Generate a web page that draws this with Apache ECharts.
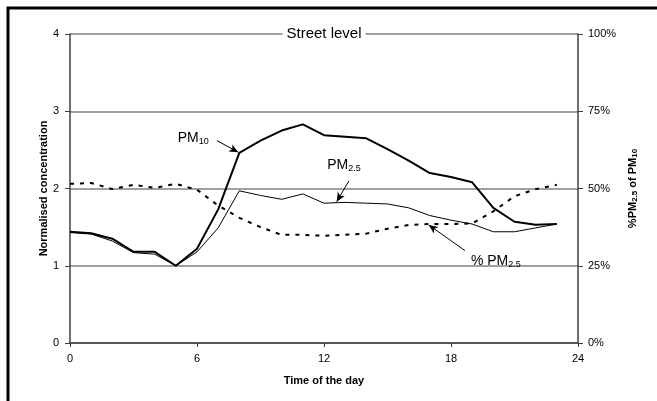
<!DOCTYPE html>
<html>
<head>
<meta charset="utf-8">
<script src="https://cdn.jsdelivr.net/npm/echarts@6/dist/echarts.min.js"></script>
<style>
html,body{margin:0;padding:0;background:#fff;}
#chart{width:657px;height:401px;}
</style>
</head>
<body>
<div id="chart"></div>
<script>
const hours = [0,1,2,3,4,5,6,7,8,9,10,11,12,13,14,15,16,17,18,19,20,21,22,23];
const pm10 = [1.44,1.42,1.35,1.18,1.18,1.00,1.22,1.73,2.46,2.62,2.75,2.83,2.69,2.67,2.65,2.51,2.36,2.20,2.15,2.08,1.75,1.57,1.53,1.54];
const pm25 = [1.43,1.41,1.32,1.17,1.15,1.00,1.18,1.49,1.97,1.91,1.86,1.93,1.81,1.82,1.81,1.80,1.75,1.65,1.59,1.54,1.44,1.44,1.49,1.54];
const pctPm25 = [51.5,51.8,49.8,51.2,50.2,51.5,49.6,44.5,40.5,37.5,35.0,35.0,34.7,35.0,35.4,37.0,38.2,38.5,38.5,38.7,42.6,47.5,49.8,51.2];
const xTicks = [0,6,12,18,24];
const leftTicks = [0,1,2,3,4];
const rightTicks = [0,25,50,75,100];

const chart = echarts.init(document.getElementById('chart'), null, {renderer:'canvas'});
const FONT = 'Arial, "Liberation Sans", sans-serif';
const pair = (arr) => hours.map((h,i)=>[h,arr[i]]);
const arrowLine = (from,to) => ({
  silent:true, animation:false, symbol:['none','arrow'], symbolSize:[6,9],
  lineStyle:{color:'#000',width:1,type:'solid'}, label:{show:false},
  emphasis:{disabled:true},
  data:[[{coord:from},{coord:to}]]
});
const subRich = {
  a:{fontFamily:FONT,fontSize:14,color:'#000',lineHeight:16,verticalAlign:'bottom'},
  b:{fontFamily:FONT,fontSize:9,color:'#000',lineHeight:9,verticalAlign:'bottom',padding:[0,0,-1,0]}
};

chart.setOption({
  animation:false,
  backgroundColor:'#fff',
  grid:{left:70,right:79,top:34,bottom:58},
  xAxis:{
    type:'value',min:xTicks[0],max:xTicks[xTicks.length-1],interval:6,
    name:'Time of the day',nameLocation:'middle',nameGap:32,nameMoveOverlap:false,
    nameTextStyle:{fontFamily:FONT,fontSize:11,fontWeight:'bold',color:'#000'},
    axisLine:{show:true,lineStyle:{color:'#404040',width:1.5}},
    axisTick:{show:true,length:4,lineStyle:{color:'#404040',width:1}},
    axisLabel:{fontFamily:FONT,fontSize:11,color:'#000',margin:10},
    splitLine:{show:false}
  },
  yAxis:[{
    type:'value',min:leftTicks[0],max:leftTicks[leftTicks.length-1],interval:1,
    name:'Normalised concentration',nameLocation:'middle',nameGap:21,nameRotate:90,nameMoveOverlap:false,
    nameTextStyle:{fontFamily:FONT,fontSize:11,fontWeight:'bold',color:'#000'},
    axisLine:{show:true,lineStyle:{color:'#404040',width:1.5}},
    axisTick:{show:true,length:5,lineStyle:{color:'#404040',width:1}},
    axisLabel:{fontFamily:FONT,fontSize:11,color:'#000',margin:11},
    splitLine:{show:true,lineStyle:{color:'#808080',width:1.5}}
  },{
    type:'value',min:rightTicks[0],max:rightTicks[rightTicks.length-1],interval:25,position:'right',
    name:'{n|%PM}{s|2.5}{n| of PM}{s|10}',nameLocation:'middle',nameGap:45,nameRotate:90,
    nameTextStyle:{rich:{
      n:{fontFamily:FONT,fontSize:11,fontWeight:'bold',color:'#000',lineHeight:13,verticalAlign:'bottom'},
      s:{fontFamily:FONT,fontSize:8,fontWeight:'bold',color:'#000',lineHeight:8,verticalAlign:'bottom',padding:[0,0,-1,0]}
    }},
    axisLine:{show:true,lineStyle:{color:'#404040',width:1.5}},
    axisTick:{show:true,length:5,lineStyle:{color:'#404040',width:1}},
    axisLabel:{fontFamily:FONT,fontSize:11,color:'#000',margin:10,formatter:'{value}%'},
    splitLine:{show:false}
  }],
  series:[{
    name:'PM10',type:'line',yAxisIndex:0,data:pair(pm10),symbol:'none',
    lineStyle:{color:'#000',width:2},z:5,
    markLine:arrowLine([6.94,2.62],[7.95,2.47])
  },{
    name:'PM2.5',type:'line',yAxisIndex:0,data:pair(pm25),symbol:'none',
    lineStyle:{color:'#000',width:1},z:4,
    markLine:arrowLine([13.18,2.10],[12.6,1.83])
  },{
    name:'% PM2.5',type:'line',yAxisIndex:1,data:pair(pctPm25),symbol:'none',
    lineStyle:{color:'#000',width:2,type:[4,6]},z:3,
    markLine:arrowLine([18.66,29.9],[16.95,38.2])
  }]
});

const p10 = chart.convertToPixel({xAxisIndex:0,yAxisIndex:0},[6.55,2.66]);
const p25 = chart.convertToPixel({xAxisIndex:0,yAxisIndex:0},[12.94,2.32]);
const pp = chart.convertToPixel({xAxisIndex:0,yAxisIndex:1},[18.94,26.9]);
const tTop = chart.convertToPixel({xAxisIndex:0,yAxisIndex:0},[12,4]);

chart.setOption({
  graphic:[{
    type:'rect',silent:true,shape:{x:8,y:8,width:700,height:500},
    style:{fill:'none',stroke:'#000',lineWidth:3},z:100
  },{
    type:'text',x:tTop[0],y:tTop[1],z:50,
    style:{text:'Street level',fontFamily:FONT,fontSize:15,fill:'#000',
      align:'center',verticalAlign:'middle',backgroundColor:'#fff',padding:[2,4]}
  },{
    type:'text',x:p10[0],y:p10[1],z:50,
    style:{text:'{a|PM}{b|10}',rich:subRich,align:'right',verticalAlign:'middle'}
  },{
    type:'text',x:p25[0],y:p25[1],z:50,
    style:{text:'{a|PM}{b|2.5}',rich:subRich,align:'center',verticalAlign:'middle'}
  },{
    type:'text',x:pp[0],y:pp[1],z:50,
    style:{text:'{a|% PM}{b|2.5}',rich:subRich,align:'left',verticalAlign:'middle'}
  }]
});
</script>
</body>
</html>
